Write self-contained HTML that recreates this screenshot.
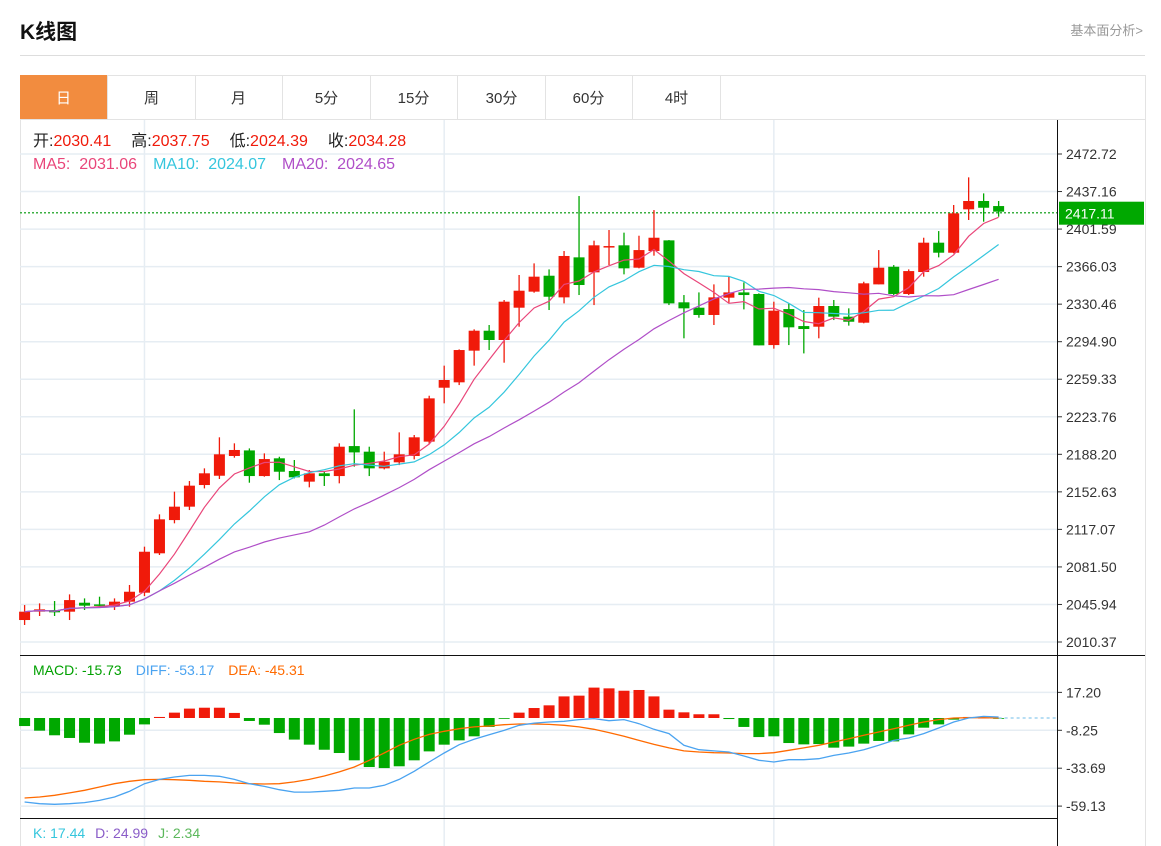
<!DOCTYPE html>
<html><head><meta charset="utf-8">
<style>
body{margin:0;background:#fff;font-family:"Liberation Sans","Noto Sans CJK SC",sans-serif;}
#wrap{position:relative;width:1161px;height:846px;overflow:hidden;}
.title{position:absolute;left:20px;top:16px;font-size:21px;font-weight:bold;color:#111;}
.more{position:absolute;right:18px;top:20px;font-size:13px;color:#999;}
.hr{position:absolute;left:20px;top:55px;width:1125px;height:1px;background:#ddd;}
.box{position:absolute;left:20px;top:75px;width:1124px;height:780px;border:1px solid #e3e3e3;}
.tabs{position:absolute;left:20px;top:75px;height:44px;width:1125px;border-bottom:1px solid #e3e3e3;}
.tab{position:absolute;top:0;height:44px;line-height:48px;text-align:center;font-size:15px;color:#333;border-right:1px solid #e3e3e3;width:87px;}
.tab.on{background:#f28c3f;color:#fff;}
svg{position:absolute;left:0;top:0;}
svg text{white-space:pre;}
</style></head><body>
<div id="wrap">
<div class="title">K线图</div>
<div class="more">基本面分析&gt;</div>
<div class="hr"></div>
<div class="box"></div>
<div class="tabs">
<div class="tab on" style="left:0">日</div>
<div class="tab" style="left:88px">周</div>
<div class="tab" style="left:175px">月</div>
<div class="tab" style="left:263px">5分</div>
<div class="tab" style="left:350px">15分</div>
<div class="tab" style="left:438px">30分</div>
<div class="tab" style="left:525px">60分</div>
<div class="tab" style="left:613px">4时</div>
</div>
<svg id="chart" width="1161" height="846"></svg>
</div>
<script>
const opens=[2031.2,2039.1,2040.7,2039.1,2047.6,2046.0,2044.5,2048.6,2057.1,2094.4,2125.9,2138.6,2159.1,2167.9,2186.6,2191.9,2167.6,2184.4,2172.4,2162.3,2170.2,2167.6,2196.0,2190.7,2174.9,2180.6,2186.6,2200.2,2251.3,2256.4,2286.4,2305.3,2296.5,2327.1,2342.3,2357.4,2336.9,2374.8,2360.6,2384.3,2386.2,2365.0,2380.8,2390.9,2332.2,2327.1,2320.2,2336.6,2341.6,2340.1,2291.7,2325.8,2309.7,2309.1,2328.7,2318.6,2312.9,2349.2,2365.9,2340.1,2360.9,2388.7,2379.2,2420.3,2428.2,2423.4];
const closes=[2039.1,2041.3,2038.5,2050.1,2044.8,2044.8,2048.6,2058.0,2095.9,2126.6,2138.6,2158.5,2170.2,2188.2,2192.3,2167.6,2183.7,2171.7,2166.4,2170.2,2167.6,2195.4,2190.0,2174.9,2181.2,2188.2,2204.3,2241.2,2258.6,2287.0,2305.3,2296.5,2332.8,2343.2,2356.5,2337.5,2376.1,2348.6,2386.2,2385.5,2364.4,2381.7,2393.4,2331.2,2326.5,2320.2,2336.9,2341.6,2339.1,2291.4,2324.3,2308.5,2306.9,2328.7,2318.6,2313.8,2350.2,2365.0,2340.1,2361.8,2388.7,2379.2,2416.5,2428.2,2421.8,2418.1];
const highs=[2045.4,2047.0,2049.2,2055.5,2051.7,2053.3,2051.7,2064.4,2100.7,2131.3,2152.8,2162.9,2174.9,2204.3,2198.6,2193.8,2189.1,2185.9,2182.8,2173.3,2171.7,2198.6,2230.8,2195.4,2190.7,2209.0,2206.5,2243.7,2272.2,2287.6,2306.6,2310.7,2334.4,2358.1,2369.1,2363.4,2380.8,2432.9,2390.6,2400.7,2398.2,2395.3,2419.6,2391.2,2339.1,2341.6,2349.2,2356.5,2351.1,2340.7,2332.8,2331.2,2324.9,2336.6,2334.4,2326.5,2351.7,2381.7,2367.5,2363.4,2393.4,2399.7,2424.4,2450.6,2435.4,2428.2];
const lows=[2026.5,2035.0,2035.0,2031.2,2040.7,2043.8,2040.7,2043.8,2053.9,2092.8,2122.8,2135.4,2155.9,2164.8,2185.0,2161.3,2167.0,2163.8,2165.4,2156.9,2158.2,2160.7,2176.5,2167.6,2173.9,2178.0,2183.4,2197.9,2236.5,2253.8,2272.2,2287.0,2275.0,2309.1,2341.3,2324.9,2331.2,2339.1,2329.6,2367.5,2358.7,2364.4,2376.4,2329.6,2298.1,2317.6,2310.7,2331.8,2325.5,2291.4,2288.3,2291.7,2283.8,2298.1,2315.4,2310.1,2312.3,2349.2,2339.1,2339.1,2356.5,2374.8,2378.6,2410.2,2408.6,2413.3];
const macdHist=[-5.4,-8.5,-11.6,-13.4,-16.6,-17.2,-15.7,-11.2,-4.3,0.7,3.6,6.3,6.9,6.9,3.4,-2.0,-4.5,-10.1,-14.5,-17.9,-21.3,-23.5,-28.4,-32.9,-33.6,-32.4,-28.4,-22.4,-17.9,-15.0,-12.3,-6.0,-0.4,3.6,6.7,8.5,14.5,15.0,20.4,19.9,18.3,18.8,14.5,5.6,3.8,2.5,2.5,-0.7,-6.0,-12.8,-12.3,-16.8,-17.7,-17.5,-19.9,-19.2,-17.2,-15.4,-15.7,-11.0,-6.5,-4.3,-1.1,0.7,0.2,-0.1];
const diffLine=[-56.4,-57.5,-57.9,-57.5,-56.8,-55.3,-53.0,-49.2,-44.1,-41.2,-39.6,-38.5,-38.5,-39.1,-41.2,-44.1,-45.9,-48.1,-49.7,-49.7,-49.2,-48.5,-47.0,-47.0,-45.2,-41.2,-35.8,-29.5,-23.5,-17.9,-14.3,-11.2,-8.3,-4.9,-3.4,-2.7,-2.2,-1.1,-0.4,-1.8,-1.1,-3.8,-7.6,-10.5,-18.3,-21.3,-22.1,-22.8,-25.5,-28.4,-29.5,-28.0,-28.0,-27.3,-25.1,-23.5,-21.3,-18.3,-15.0,-13.4,-10.5,-6.7,-2.7,0,1.1,0.7];
const deaLine=[-53.7,-53.0,-51.9,-50.3,-48.5,-46.3,-44.1,-42.5,-41.4,-41.2,-41.4,-41.8,-42.5,-42.9,-43.6,-44.1,-44.3,-44.1,-42.9,-41.2,-38.9,-36.2,-32.9,-28.4,-23.5,-18.3,-14.3,-11.0,-8.9,-7.2,-6.0,-5.4,-4.5,-4.0,-4.0,-4.3,-4.9,-6.0,-7.6,-9.8,-12.3,-15.0,-17.7,-20.1,-22.1,-22.8,-23.3,-23.5,-23.9,-23.9,-23.3,-21.7,-20.1,-18.3,-16.1,-13.9,-11.6,-9.4,-7.2,-4.9,-2.7,-1.1,0,0.2,0.2,0];
const priceTicks=[2472.72,2437.16,2401.59,2366.03,2330.46,2294.90,2259.33,2223.76,2188.20,2152.63,2117.07,2081.50,2045.94,2010.37];
const macdTicks=[17.20,-8.25,-33.69,-59.13];
const lastPrice=2417.11;

const NS='http://www.w3.org/2000/svg';
const svg=document.getElementById('chart');
function mk(tag,attrs,name,parent){const e=document.createElementNS(NS,tag);for(const k in attrs)e.setAttribute(k,attrs[k]);


(parent||svg).appendChild(e);return e;}
const xAt=i=>24.6+i*14.985;
const yP=p=>154+(2472.72-p)*1.0555;
const yM=v=>718-v*1.49;
const L=20,R=1057;
priceTicks.forEach(t=>{const y=yP(t);
mk('line',{x1:L,x2:R,y1:y,y2:y,stroke:'#e6edf3','stroke-width':1.5},'price-gridline');
mk('line',{x1:R,x2:R+5,y1:y,y2:y,stroke:'#333'},'price-tick');
const tx=mk('text',{x:R+9,y:y+5,'font-size':14,fill:'#333','font-family':'Liberation Sans, sans-serif'},'price-tick-label');tx.textContent=t.toFixed(2);});
macdTicks.forEach(t=>{const y=yM(t);
mk('line',{x1:L,x2:R,y1:y,y2:y,stroke:'#e6edf3','stroke-width':1.5},'macd-gridline');
mk('line',{x1:R,x2:R+5,y1:y,y2:y,stroke:'#333'},'macd-tick');
const tx=mk('text',{x:R+9,y:y+5,'font-size':14,fill:'#333','font-family':'Liberation Sans, sans-serif'},'macd-tick-label');tx.textContent=t.toFixed(2);});
[8,28,50].forEach(i=>{mk('line',{x1:xAt(i),x2:xAt(i),y1:120,y2:846,stroke:'#e6edf3','stroke-width':1.5},'vertical-gridline');});
mk('line',{x1:L,x2:1145,y1:655.5,y2:655.5,stroke:'#111'},'main-panel-bottom');
mk('line',{x1:L,x2:R,y1:818.5,y2:818.5,stroke:'#111'},'macd-panel-bottom');
mk('line',{x1:R+0.5,x2:R+0.5,y1:120,y2:846,stroke:'#111'},'right-axis-line');
const ly=yP(lastPrice);
mk('line',{x1:L,x2:R,y1:ly,y2:ly,stroke:'#3cb043','stroke-dasharray':'2,2','stroke-width':1.5},'last-price-line');
mk('rect',{x:R+2,y:ly-11,width:85,height:23,fill:'#00a800'},'last-price-badge');
const lt=mk('text',{x:R+8,y:ly+6,'font-size':14,fill:'#fff','font-family':'Liberation Sans, sans-serif'},'last-price-label');lt.textContent=lastPrice.toFixed(2);
closes.forEach((c,i)=>{const o=opens[i],up=c>=o,col=up?'#f01a0a':'#00a800',x=xAt(i);
mk('line',{x1:x,x2:x,y1:yP(highs[i]),y2:yP(lows[i]),stroke:col,'stroke-width':1.3},'candle-wick');
const t=yP(Math.max(o,c)),b=yP(Math.min(o,c));
mk('rect',{x:x-5.5,y:t,width:11,height:Math.max(1.5,b-t),fill:col},'candle-body');});
function ma(n){return closes.map((_,i)=>{const s=closes.slice(Math.max(0,i-n+1),i+1);return s.reduce((a,b)=>a+b,0)/s.length;});}
[[5,'#e9467a','ma5-line'],[10,'#35c6dd','ma10-line'],[20,'#b04fc8','ma20-line']].forEach(([n,col,name])=>{
const pts=ma(n).map((v,i)=>xAt(i).toFixed(1)+','+yP(v).toFixed(1)).join(' ');
mk('polyline',{points:pts,fill:'none',stroke:col,'stroke-width':1.2},name);});
const z=yM(0);
macdHist.forEach((v,i)=>{const x=xAt(i);const y=yM(v);
mk('rect',{x:x-5.5,y:Math.min(y,z),width:11,height:Math.max(0.8,Math.abs(y-z)),fill:v>=0?'#f01a0a':'#00a800'},'macd-bar');});
mk('line',{x1:xAt(macdHist.length-1),x2:R,y1:z,y2:z,stroke:'#9fd3f0','stroke-dasharray':'3,3','stroke-width':1.5},'macd-zero-line');
mk('polyline',{points:deaLine.map((v,i)=>xAt(i).toFixed(1)+','+yM(v).toFixed(1)).join(' '),fill:'none',stroke:'#ff6a00','stroke-width':1.3},'dea-line');
mk('polyline',{points:diffLine.map((v,i)=>xAt(i).toFixed(1)+','+yM(v).toFixed(1)).join(' '),fill:'none',stroke:'#4aa3f0','stroke-width':1.3},'diff-line');
function legend(y,parts,name,size){const t=mk('text',{x:33,y:y,'font-size':size,'font-family':'Liberation Sans, Noto Sans CJK SC, sans-serif'},name);
parts.forEach(([s,c,dx])=>{const sp=document.createElementNS(NS,'tspan');sp.setAttribute('fill',c);if(dx)sp.setAttribute('dx',dx);sp.textContent=s;t.appendChild(sp);});}
legend(146,[['开:','#222'],['2030.41','#f01a0a'],['高:','#222',20],['2037.75','#f01a0a'],['低:','#222',20],['2024.39','#f01a0a'],['收:','#222',20],['2034.28','#f01a0a']],'ohlc-legend',16);
legend(169,[['MA5:  2031.06','#e9467a'],['MA10:  2024.07','#35c6dd',16],['MA20:  2024.65','#b04fc8',16]],'ma-legend',16);
legend(675,[['MACD: -15.73','#00a000'],['DIFF: -53.17','#4aa3f0',14],['DEA: -45.31','#ff6a00',14]],'macd-legend',14);
legend(838,[['K: 17.44','#35c6dd'],['D: 24.99','#8a5cc8',10],['J: 2.34','#5cb85c',10]],'kdj-legend',14);
</script>
</body></html>
